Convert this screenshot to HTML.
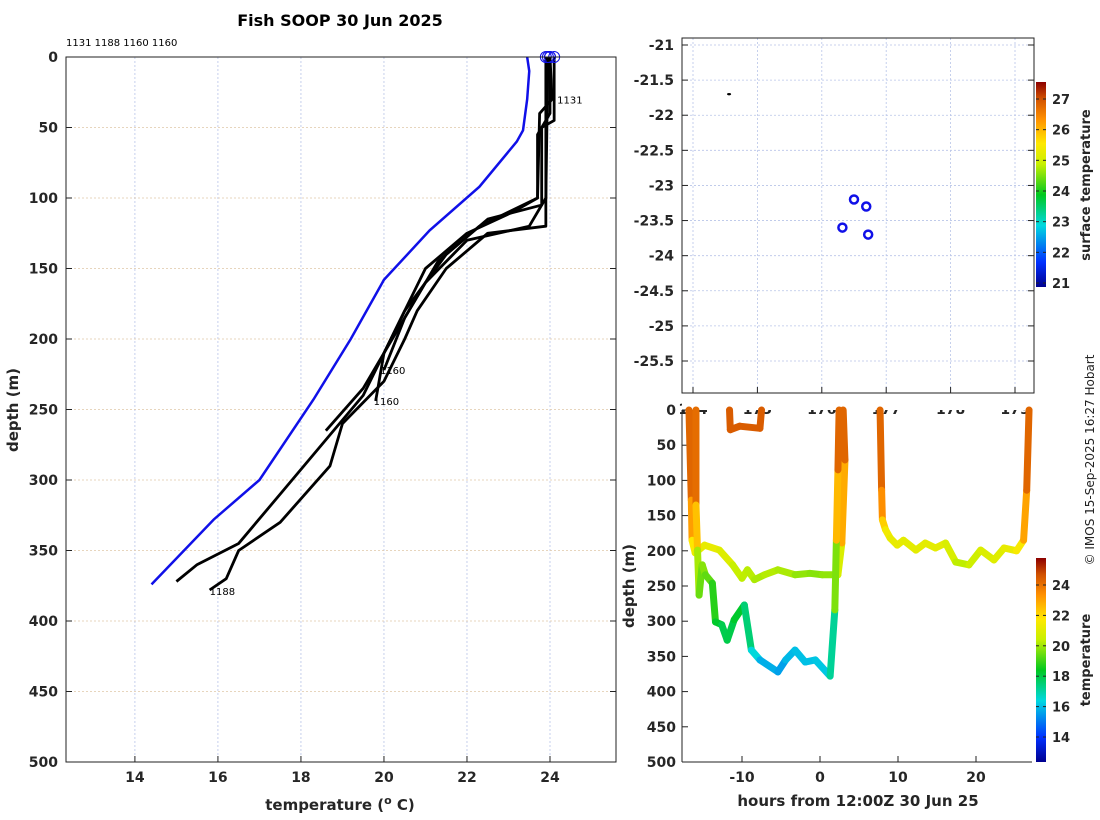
<!DOCTYPE html>
<html><head><meta charset="utf-8">
<style>
html,body{margin:0;padding:0;background:#fff;}
svg{display:block;font-family:"DejaVu Sans","Liberation Sans",sans-serif;}
.tk{font-size:14px;font-weight:bold;fill:#262626;}
.lb{font-size:15px;font-weight:bold;fill:#262626;}
</style></head>
<body>
<svg id="s" width="1100" height="820" viewBox="0 0 1100 820" xmlns="http://www.w3.org/2000/svg">
<defs>
<linearGradient id="cm" x1="0" y1="1" x2="0" y2="0">
<stop offset="0" stop-color="#00008f"/><stop offset="0.12" stop-color="#0030ff"/>
<stop offset="0.3" stop-color="#00d8e0"/><stop offset="0.45" stop-color="#00c820"/>
<stop offset="0.6" stop-color="#c8f000"/><stop offset="0.7" stop-color="#ffe800"/>
<stop offset="0.82" stop-color="#ff9000"/><stop offset="0.92" stop-color="#d05000"/>
<stop offset="1" stop-color="#8c0000"/></linearGradient>
</defs>
<text x="340" y="26" text-anchor="middle" style="font-size:16px;font-weight:bold">Fish SOOP 30 Jun 2025</text>
<text x="66" y="46" style="font-size:10px">1131 1188 1160 1160</text>
<text transform="translate(1094,460) rotate(-90)" text-anchor="middle" style="font-size:12px;fill:#222">© IMOS 15-Sep-2025 16:27 Hobart</text>
<g id="g"></g>
</svg>
<script>
// ---- profile panel data ----
const profTicksX=[14,16,18,20,22,24];
const profTicksY=[0,50,100,150,200,250,300,350,400,450,500];
const climTemp=[23.45,23.5,23.45,23.35,23.2,22.3,21.1,20.0,19.2,18.3,17.0,15.9,14.4];
const climDepth=[0,10,30,52,60,92,123,158,200,243,300,328,374];
const p1Temp=[24.0,24.05,23.75,23.7,23.1,22.0,21.0,20.5,20.0,19.5,18.5,17.5,16.5,15.5,15.0];
const p1Depth=[0,30,40,100,110,125,150,180,210,240,275,310,345,360,372];
const p2Temp=[23.9,23.9,23.9,22.5,21.5,20.8,20.5,20.0,19.0,18.7,17.5,16.5,16.2,15.8];
const p2Depth=[0,100,120,125,150,180,200,230,260,290,330,350,370,378];
const p3Temp=[24.1,24.1,23.8,23.8,22.5,21.5,20.5,20.0,19.8];
const p3Depth=[0,45,50,105,115,140,180,210,244];
const p4Temp=[24.0,24.0,23.7,23.7,22.3,21.3,20.5,20.0];
const p4Depth=[0,40,55,100,120,145,185,222];
const p5Temp=[23.95,23.9,23.5,22.0,21.0,20.2,19.5,18.6];
const p5Depth=[0,100,120,130,160,200,235,265];
const profLabels=["1131","1188","1160","1160"];
// ---- map data ----
const mapLatTicks=[-21,-21.5,-22,-22.5,-23,-23.5,-24,-24.5,-25,-25.5];
const mapLonTicks=[174,175,176,177,178,179];
const mapDotLon=[174.56], mapDotLat=[-21.7];
const mapCircLon=[176.32,176.5,176.69,176.72], mapCircLat=[-23.6,-23.2,-23.3,-23.7];
const sstTicks=[21,22,23,24,25,26,27];
// ---- time-depth data ----
const tdTicksX=[-10,0,10,20];
const tdTicksY=[0,50,100,150,200,250,300,350,400,450,500];
const tempTicks=[14,16,18,20,22,24];
const trA_h=[-16.8,-16.5,-16.4,-16,-14.8,-12.9,-11.2,-10,-9.3,-8.4,-7.1,-5.4,-3.2,-1.3,0.3,2.3,2.8,3.2,2.97];
const trA_d=[0,128,185,203,192,199,220,239,227,241,234,227,234,232,234,234,189,71,0];
const trA_t=[24.2,23.8,22,21,21,21,20.5,20,20.3,19.9,20,20.1,19.8,19.6,19.6,19.8,21.5,23.8,24.2];
const trB_h=[-15.9,-15.9,-15.7,-15.5,-15.1,-14.7,-13.8,-13.4,-12.6,-11.9,-11,-9.7,-8.8,-7.7,-5.4,-4.4,-3.2,-1.9,-0.6,1.3,1.9,2.1,2.3,2.45];
const trB_d=[0,135,199,263,220,234,246,301,305,327,298,277,341,355,372,355,341,358,355,378,284,185,85,0];
const trB_t=[24.2,23.5,21,18.8,19.8,19.4,19,18.3,18,17.6,18.1,18.2,16.6,16.1,15.3,15.7,16,15.9,16,16.1,18,21,23.8,24.2];
const trC_h=[-11.6,-11.5,-10.3,-7.7,-7.5];
const trC_d=[0,28,23,26,0];
const trC_t=[24.2,24.2,24.2,24.2,24.2];
const trD_h=[7.7,7.9,8,8.4,9,9.9,10.7,12.3,13.5,14.8,16.1,17.4,19.1,20.6,22.3,23.6,25.2,26.1,26.5,26.8];
const trD_d=[0,114,156,170,182,192,185,199,189,196,189,216,220,199,213,196,200,185,114,0];
const trD_t=[24.2,23.8,22.5,21.5,21,21,21,20.8,21,20.8,21,20.3,20,20.8,20.6,21,21,21.8,23.8,24.2];

const NS="http://www.w3.org/2000/svg";
const G=document.getElementById('g');
function mk(t,a,txt){const e=document.createElementNS(NS,t);for(const k in a)e.setAttribute(k,a[k]);if(txt!==undefined)e.textContent=txt;G.appendChild(e);return e;}
function lin(d0,d1,p0,p1){return v=>p0+(v-d0)/(d1-d0)*(p1-p0);}
const stops=[[0,[0,0,143]],[0.12,[0,48,255]],[0.3,[0,216,224]],[0.45,[0,200,32]],[0.6,[200,240,0]],[0.7,[255,232,0]],[0.82,[255,144,0]],[0.92,[208,80,0]],[1,[140,0,0]]];
function cmap(f){f=Math.max(0,Math.min(1,f));for(let i=1;i<stops.length;i++){if(f<=stops[i][0]){const a=stops[i-1],b=stops[i],u=(f-a[0])/(b[0]-a[0]);return 'rgb('+a[1].map((c,j)=>Math.round(c+(b[1][j]-c)*u)).join(',')+')';}}return 'rgb(140,0,0)';}
const grid={stroke:'#b8c4e8','stroke-width':0.8,'stroke-dasharray':'2,2'};
const grid2={stroke:'#e0c8a8','stroke-width':0.8,'stroke-dasharray':'2,2'};

// ===== Profile panel =====
const px=lin(12.34,25.59,66,616), py=lin(0,500,57,762);
profTicksX.forEach(v=>{const l=mk('line',Object.assign({x1:px(v),x2:px(v),y1:57,y2:762},grid));
 const t=mk('text',{x:px(v),y:782,'text-anchor':'middle',class:'tk'},v);
 mk('line',{x1:px(v),x2:px(v),y1:762,y2:756,stroke:'#222'});});
profTicksY.forEach(v=>{const l=mk('line',Object.assign({x1:66,x2:616,y1:py(v),y2:py(v)},grid2));
 const t=mk('text',{x:58,y:py(v)+5,'text-anchor':'end',class:'tk'},v);
 mk('line',{x1:66,x2:72,y1:py(v),y2:py(v),stroke:'#222'});mk('line',{x1:616,x2:610,y1:py(v),y2:py(v),stroke:'#222'});});
function poly(T,D,fx,fy,attrs,name){const p=mk('polyline',Object.assign({points:T.map((t,i)=>fx(t)+','+fy(D[i])).join(' '),fill:'none'},attrs));return p;}
poly(climTemp,climDepth,px,py,{stroke:'#1010e8','stroke-width':2.5},'climatology-profile');
const profs=[[p1Temp,p1Depth],[p2Temp,p2Depth],[p3Temp,p3Depth],[p4Temp,p4Depth],[p5Temp,p5Depth]];
profs.forEach((p,i)=>{poly(p[0],p[1],px,py,{stroke:'#000','stroke-width':2.8,'stroke-linejoin':'round'},'xbt-profile-'+(i+1));
 const c=mk('circle',{cx:px(p[0][0]),cy:py(0),r:5.5,fill:'none',stroke:'#1010e8','stroke-width':1});});
[[0,px(24.1)+3,py(30)+4],[1,px(15.8),py(378)+5],[2,px(20)-4,py(222)+4],[3,px(19.8)-2,py(244)+4]].forEach(a=>{
 const t=mk('text',{x:a[1],y:a[2],style:'font-size:10px'},profLabels[a[0]]);});
mk('rect',{x:66,y:57,width:550,height:705,fill:'none',stroke:'#222'});
let t1=mk('text',{x:340,y:810,'text-anchor':'middle',class:'lb'},'temperature (');
const ts=document.createElementNS(NS,'tspan');ts.setAttribute('dy','-6');ts.setAttribute('style','font-size:11px');ts.textContent='o';t1.appendChild(ts);
const ts2=document.createElementNS(NS,'tspan');ts2.setAttribute('dy','6');ts2.textContent=' C)';t1.appendChild(ts2);
let t2=mk('text',{transform:'translate(18,410) rotate(-90)','text-anchor':'middle',class:'lb'},'depth (m)');

// ===== Map panel =====
const mx=lin(174,179,693,1015), my=lin(-21,-25.5,45,361);
mapLonTicks.forEach(v=>{mk('line',Object.assign({x1:mx(v),x2:mx(v),y1:38,y2:393},grid));mk('line',{x1:mx(v),x2:mx(v),y1:393,y2:387,stroke:'#222'});
 const t=mk('text',{x:mx(v),y:414,'text-anchor':'middle',class:'tk'},v);});
mapLatTicks.forEach(v=>{mk('line',Object.assign({x1:682,x2:1034,y1:my(v),y2:my(v)},grid));mk('line',{x1:682,x2:688,y1:my(v),y2:my(v),stroke:'#222'});mk('line',{x1:1034,x2:1028,y1:my(v),y2:my(v),stroke:'#222'});
 const t=mk('text',{x:674,y:my(v)+5,'text-anchor':'end',class:'tk'},v);});
mapDotLon.forEach((v,i)=>{const c=mk('ellipse',{cx:mx(v),cy:my(mapDotLat[i]),rx:2,ry:1.2,fill:'#000'});});
mapCircLon.forEach((v,i)=>{const c=mk('circle',{cx:mx(v),cy:my(mapCircLat[i]),r:4,fill:'none',stroke:'#1010e8','stroke-width':2.5});});
mk('rect',{x:682,y:38,width:352,height:355,fill:'none',stroke:'#222'});
const sy=lin(21,27,283,99);
mk('rect',{x:1036,y:82,width:10,height:205,fill:'url(#cm)'});
sstTicks.forEach(v=>{mk('line',{x1:1036,x2:1039,y1:sy(v),y2:sy(v),stroke:'#222'});mk('line',{x1:1043,x2:1046,y1:sy(v),y2:sy(v),stroke:'#222'});
 const t=mk('text',{x:1052,y:sy(v)+5,class:'tk',style:'font-size:13px'},v);});
let t3=mk('text',{transform:'translate(1090,185) rotate(-90)','text-anchor':'middle',class:'lb',style:'font-size:13px'},'surface temperature');

// ===== Time-depth panel =====
mk('rect',{x:682,y:403,width:352,height:7,fill:'#fff'});
const hx=lin(0,10,820,898), hy=lin(0,500,410,762);
const cbLo=12.35,cbHi=25.5;
tdTicksX.forEach(v=>{mk('line',{x1:hx(v),x2:hx(v),y1:762,y2:756,stroke:'#222'});
 const t=mk('text',{x:hx(v),y:782,'text-anchor':'middle',class:'tk'},v);});
tdTicksY.forEach(v=>{mk('line',{x1:682,x2:688,y1:hy(v),y2:hy(v),stroke:'#222'});
 const t=mk('text',{x:676,y:hy(v)+5,'text-anchor':'end',class:'tk'},v);});
function track(H,D,T,name){for(let i=1;i<H.length;i++){const tv=(T[i]+T[i-1])/2;
 const l=mk('line',{x1:hx(H[i-1]),y1:hy(D[i-1]),x2:hx(H[i]),y2:hy(D[i]),stroke:cmap((tv-cbLo)/(cbHi-cbLo)),'stroke-width':7,'stroke-linecap':'round'});
 }}
track(trA_h,trA_d,trA_t,'track-a');track(trB_h,trB_d,trB_t,'track-b');track(trC_h,trC_d,trC_t,'track-c');track(trD_h,trD_d,trD_t,'track-d');
mk('line',{x1:682,x2:682,y1:410,y2:762,stroke:'#222'});
mk('line',{x1:682,x2:1032,y1:762,y2:762,stroke:'#222'});
const cy2=lin(14,24,737,585);
mk('rect',{x:1036,y:558,width:10,height:204,fill:'url(#cm)'});
tempTicks.forEach(v=>{mk('line',{x1:1036,x2:1039,y1:cy2(v),y2:cy2(v),stroke:'#222'});mk('line',{x1:1043,x2:1046,y1:cy2(v),y2:cy2(v),stroke:'#222'});
 const t=mk('text',{x:1052,y:cy2(v)+5,class:'tk',style:'font-size:13px'},v);});
let t4=mk('text',{transform:'translate(1090,660) rotate(-90)','text-anchor':'middle',class:'lb',style:'font-size:13px'},'temperature');
let t5=mk('text',{x:858,y:806,'text-anchor':'middle',class:'lb'},'hours from 12:00Z 30 Jun 25');
let t6=mk('text',{transform:'translate(634,586) rotate(-90)','text-anchor':'middle',class:'lb'},'depth (m)');
</script>
</body></html>
